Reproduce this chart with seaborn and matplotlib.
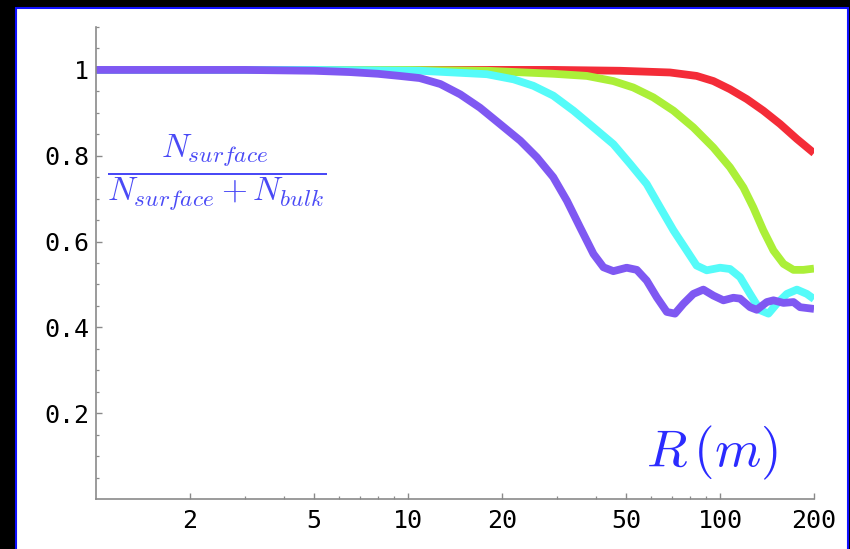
import matplotlib
matplotlib.use("Agg")
import numpy as np
import pandas as pd
import matplotlib.pyplot as plt
import seaborn as sns
from matplotlib.patches import Rectangle
from matplotlib.ticker import FixedLocator, FixedFormatter, NullFormatter

# Radius R (m) and surface fraction N_surface / (N_surface + N_bulk) for each curve
r_red = [1, 5, 10, 20, 29.2, 47.8, 69.1, 84.1, 95.2, 107.6, 121.8, 137.6,
         155.7, 176.3, 200]
f_red = [1.0, 1.0, 1.0, 1.0, 1.0, 0.998, 0.994, 0.986, 0.974, 0.955, 0.932,
         0.905, 0.874, 0.839, 0.806]

r_green = [1, 5, 10, 17.9, 29.2, 37.4, 45.5, 52.7, 61.1, 70.9, 82.1, 95.2,
           107.6, 118.8, 127.7, 137.6, 148.3, 159.7, 171.9, 185, 200]
f_green = [1.0, 1.0, 1.0, 0.998, 0.991, 0.986, 0.974, 0.959, 0.936, 0.905,
           0.866, 0.819, 0.773, 0.726, 0.680, 0.626, 0.579, 0.548, 0.534,
           0.534, 0.537]

r_cyan = [1, 5, 10.9, 14.0, 17.9, 21.8, 25.2, 29.2, 33.9, 39.3, 45.5, 51.5,
          58.2, 64.2, 70.9, 78.2, 84.1, 90.6, 100, 107.6, 115.9, 124.8, 134.4,
          142.9, 152, 163.7, 176.3, 189.7, 200]
f_cyan = [1.0, 1.0, 0.998, 0.994, 0.990, 0.978, 0.963, 0.940, 0.905, 0.866,
          0.827, 0.781, 0.734, 0.680, 0.626, 0.579, 0.544, 0.533, 0.539, 0.536,
          0.517, 0.478, 0.440, 0.432, 0.455, 0.478, 0.488, 0.478, 0.466]

r_purple = [1, 3, 5, 6.5, 8, 9.4, 10.9, 12.7, 14.7, 17.0, 19.7, 22.9, 25.9,
            29.2, 32.3, 35.6, 39.3, 42.3, 45.5, 50.2, 54.1, 58.2, 62.7, 67.5,
            71.7, 76.3, 82.1, 88.4, 95.2, 102.5, 110.3, 115.9, 124.8, 131.1,
            141.2, 148.3, 159.7, 171.9, 180.5, 200]
f_purple = [1.0, 1.0, 0.998, 0.995, 0.991, 0.986, 0.981, 0.967, 0.943, 0.912,
            0.874, 0.835, 0.796, 0.750, 0.695, 0.633, 0.571, 0.540, 0.531,
            0.539, 0.534, 0.509, 0.470, 0.436, 0.432, 0.455, 0.478, 0.488,
            0.474, 0.463, 0.469, 0.467, 0.447, 0.441, 0.459, 0.463, 0.457,
            0.459, 0.447, 0.443]

series_names = ["red", "green", "cyan", "purple"]
series_colors = ["#F42C38", "#ABEF38", "#55FBF9", "#7F58F2"]

x_major = [2, 5, 10, 20, 50, 100, 200]
x_major_labels = ["2", "5", "10", "20", "50", "100", "200"]
x_minor = [3, 4, 6, 7, 8, 9, 30, 40, 60, 70, 80, 90]
y_major = [0.2, 0.4, 0.6, 0.8, 1.0]
y_major_labels = ["0.2", "0.4", "0.6", "0.8", "1"]

frames = []
for name, r, f in zip(series_names,
                      [r_red, r_green, r_cyan, r_purple],
                      [f_red, f_green, f_cyan, f_purple]):
    frames.append(pd.DataFrame({"R": r, "frac": f, "curve": name}))
data = pd.concat(frames, ignore_index=True)

sns.set_style("ticks")
plt.rcParams["font.family"] = ["DejaVu Sans Mono", "DejaVu Sans"]
plt.rcParams["mathtext.fontset"] = "cm"

fig = plt.figure(figsize=(8.5, 5.49), dpi=100, facecolor="black")
# white panel with a blue border
panel = Rectangle((15.5 / 850, -0.05), (847.5 - 15.5) / 850, 1.05 - 7.5 / 549,
                  transform=fig.transFigure, facecolor="white",
                  edgecolor="#1010FF", linewidth=1.5, zorder=-1)
fig.patches.append(panel)

ax = fig.add_axes([96 / 850, 1 - 499 / 549, (814 - 96) / 850, (499 - 27) / 549])
ax.patch.set_alpha(0)

sns.lineplot(data=data, x="R", y="frac", hue="curve", hue_order=series_names,
             palette=dict(zip(series_names, series_colors)), linewidth=5.6,
             legend=False, ax=ax, estimator=None, sort=True)
for line in ax.lines:
    line.set_solid_joinstyle("round")
    line.set_solid_capstyle("butt")

ax.set_xscale("log")
ax.set_xlim(1, 200)
ax.set_ylim(0, 1.1)
ax.set_xlabel("")
ax.set_ylabel("")

ax.xaxis.set_major_locator(FixedLocator(x_major))
ax.xaxis.set_major_formatter(FixedFormatter(x_major_labels))
ax.xaxis.set_minor_locator(FixedLocator(x_minor))
ax.xaxis.set_minor_formatter(NullFormatter())
ax.yaxis.set_major_locator(FixedLocator(y_major))
ax.yaxis.set_major_formatter(FixedFormatter(y_major_labels))
ax.yaxis.set_minor_locator(FixedLocator(np.arange(0.05, 1.11, 0.05)))

for s in ["top", "right"]:
    ax.spines[s].set_visible(False)
for s in ["left", "bottom"]:
    ax.spines[s].set_color("#8a8a8a")
    ax.spines[s].set_linewidth(1.2)

ax.tick_params(which="major", direction="in", length=4, width=1,
               color="#8a8a8a", labelsize=18, labelcolor="black")
ax.tick_params(which="minor", direction="in", length=2.5, width=0.9,
               color="#8a8a8a")
ax.tick_params(axis="x", which="major", pad=7)
ax.tick_params(axis="y", which="major", pad=5)

ax.text(0.168, 0.693,
        r"$\dfrac{N_{surface}}{N_{surface}+N_{bulk}}$",
        transform=ax.transAxes, ha="center", va="center",
        fontsize=24, color="#4A4AF6")
ax.text(0.858, 0.068, r"$R\,(m)$", transform=ax.transAxes,
        ha="center", va="baseline", fontsize=38, color="#2B2BFF")

fig.savefig("out.png", dpi=100, facecolor=fig.get_facecolor())
